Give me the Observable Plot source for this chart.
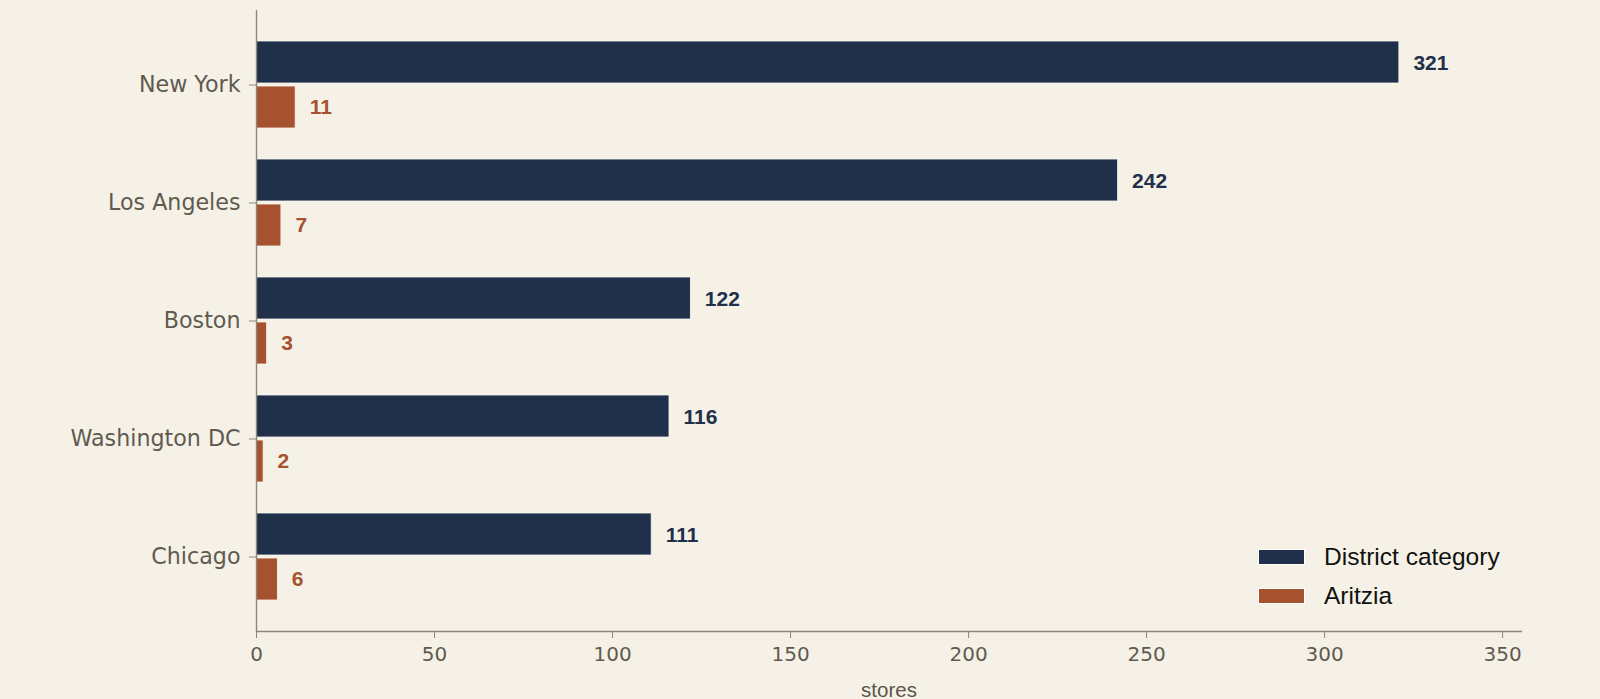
<!DOCTYPE html>
<html>
<head>
<meta charset="utf-8">
<script src="https://cdn.jsdelivr.net/npm/d3@7"></script>
<script src="https://cdn.jsdelivr.net/npm/@observablehq/plot@0.6"></script>
<style>
  html, body { margin: 0; padding: 0; background: #f5f1e6; }
  #wrap { position: relative; width: 1600px; height: 699px; }
  .legend { position: absolute; left: 1258px; top: 537px; font-family: "Liberation Sans", Arial, sans-serif; font-size: 24.5px; color: #111; }
  .legend .row { display: flex; align-items: center; height: 39.5px; }
  .legend .sw { width: 47px; height: 16px; margin-right: 19px; border: 0.5px solid #fff; box-sizing: border-box; }
</style>
</head>
<body>
<div id="wrap"></div>
<script>
const cities = ["New York", "Los Angeles", "Boston", "Washington DC", "Chicago"];
const districtValues = [321, 242, 122, 116, 111];
const aritziaValues = [11, 7, 3, 2, 6];
const seriesNames = ["District category", "Aritzia"];
const seriesColors = ["#21304a", "#a6522e"];
const xTicks = [0, 50, 100, 150, 200, 250, 300, 350];

const district = cities.map((c, i) => ({city: c, value: districtValues[i]}));
const aritzia = cities.map((c, i) => ({city: c, value: aritziaValues[i]}));

const axisColor = "#8c877b";
const tickText = "#5f5a50";

const chart = Plot.plot({
  width: 1600,
  height: 699,
  marginLeft: 256,
  marginRight: 79,
  marginTop: 10,
  marginBottom: 68,
  style: {background: "#f5f1e6", overflow: "visible"},
  x: {domain: [0, 355.3], ticks: xTicks},
  y: {domain: cities, paddingInner: 0.26, paddingOuter: 0.2415},
  marks: [
    Plot.barX(district, {x: "value", y: "city", fill: seriesColors[0], stroke: "#fbf8f0", strokeWidth: 0.8, insetBottom: 45}),
    Plot.barX(aritzia, {x: "value", y: "city", fill: seriesColors[1], stroke: "#fbf8f0", strokeWidth: 0.8, insetTop: 45}),
    Plot.text(district, {x: "value", y: "city", text: d => String(d.value), dx: 14, dy: -22, textAnchor: "start", fill: seriesColors[0], fontSize: 21, fontWeight: "bold", fontFamily: "Liberation Sans, Arial, sans-serif"}),
    Plot.text(aritzia, {x: "value", y: "city", text: d => String(d.value), dx: 14, dy: 22, textAnchor: "start", fill: seriesColors[1], fontSize: 21, fontWeight: "bold", fontFamily: "Liberation Sans, Arial, sans-serif"}),
    Plot.ruleX([0], {stroke: axisColor, strokeWidth: 1.4}),
    Plot.axisY({tickSize: 7, tickPadding: 9, stroke: axisColor, color: tickText, fontSize: 22.2, fontFamily: "DejaVu Sans, sans-serif", label: null}),
    Plot.axisX({ticks: xTicks, tickSize: 7, tickPadding: 8, stroke: axisColor, color: tickText, fontSize: 20, fontFamily: "DejaVu Sans, sans-serif", label: null}),
    Plot.frame({anchor: "bottom", stroke: axisColor, strokeWidth: 1.4}),
    Plot.text(["stores"], {frameAnchor: "bottom", dy: 65, text: d => d, fill: "#5a564c", fontSize: 20.5, fontFamily: "Liberation Sans, Arial, sans-serif"})
  ]
});

const wrap = document.getElementById("wrap");
wrap.appendChild(chart);

const legend = document.createElement("div");
legend.className = "legend";
seriesNames.forEach((name, i) => {
  const row = document.createElement("div");
  row.className = "row";
  const sw = document.createElement("div");
  sw.className = "sw";
  sw.style.background = seriesColors[i];
  const lab = document.createElement("span");
  lab.textContent = name;
  row.appendChild(sw);
  row.appendChild(lab);
  legend.appendChild(row);
});
wrap.appendChild(legend);
</script>
</body>
</html>
